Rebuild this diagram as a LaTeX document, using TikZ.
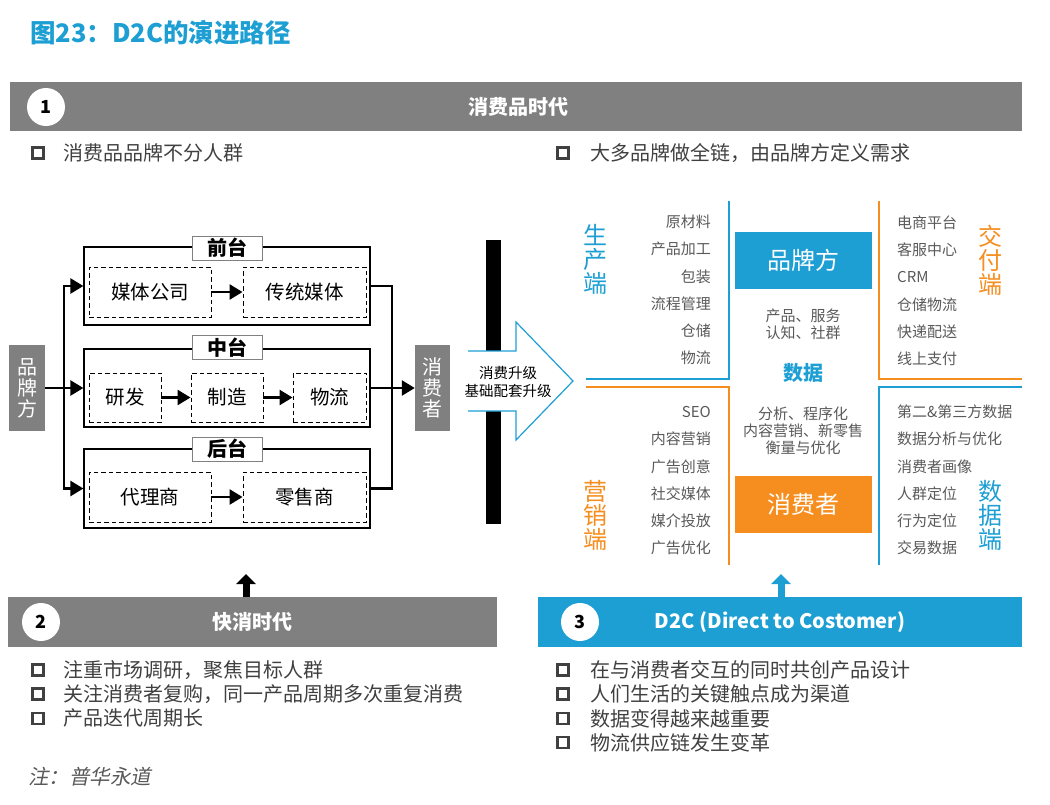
\documentclass[tikz,border=0pt]{standalone}
\usepackage{fontspec}
\setmainfont{Noto Sans CJK SC}
\newfontfamily\notefont[FakeSlant=0.2]{Noto Sans CJK SC}
\usetikzlibrary{arrows.meta}
\definecolor{dblue}{RGB}{30,159,212}
\definecolor{dorange}{RGB}{246,142,31}
\definecolor{bargray}{RGB}{128,128,128}
\definecolor{txtgray}{RGB}{89,89,89}
\definecolor{bulgray}{RGB}{64,64,64}
\begin{document}
\begin{tikzpicture}[x=1pt,y=-1pt,
 barbox/.style={fill=bargray,draw=none,inner sep=0,anchor=north west},
 bartext/.style={text=white,inner sep=0,font=\bfseries\fontsize{20}{24}\selectfont},
 numcirc/.style={circle,fill=white,minimum size=38pt,inner sep=0,font=\bfseries\fontsize{18}{20}\selectfont},
 bsq/.style={draw=bulgray,line width=2.5pt,minimum size=11pt,inner sep=0},
 btxt/.style={anchor=west,text=bulgray,font=\fontsize{20}{22}\selectfont,inner sep=0},
 outer/.style={draw,line width=1.2pt,minimum width=286pt,minimum height=78pt,inner sep=0},
 lab/.style={draw=gray,line width=1pt,fill=white,minimum width=70pt,minimum height=24pt,inner sep=0,font=\bfseries\fontsize{20}{22}\selectfont},
 dbox/.style={draw,dash pattern=on 4.5pt off 3pt,line width=0.9pt,minimum height=50pt,inner sep=0,font=\fontsize{19.5}{22}\selectfont},
 conn/.style={line width=2.5pt},
 arr/.style={line width=2.5pt,-{Triangle[length=13pt,width=15pt]}},
 side/.style={fill=bargray,text=white,minimum width=36pt,minimum height=86pt,inner sep=0,align=center,font=\fontsize{20}{21}\selectfont},
 qline/.style={line width=2.5pt},
 qlist/.style={text=txtgray,font=\fontsize{15}{17}\selectfont,inner sep=0},
 qlab/.style={align=center,font=\fontsize{24}{24}\selectfont,inner sep=0},
 ctext/.style={text=txtgray,align=center,font=\fontsize{15}{17}\selectfont,inner sep=0},
 qbox/.style={minimum width=137pt,minimum height=57pt,inner sep=0,text=white,font=\fontsize{24}{26}\selectfont},
 uparr/.style={line width=7pt,-{Triangle[length=10pt,width=19pt]}},
]
\useasboundingbox (0,0) rectangle (1050,804);

% title
\node[anchor=west,inner sep=0,text=dblue,font=\bfseries\fontsize{25.5}{28}\selectfont] (title) at (30,33) {图23：D2C的演进路径};

% top bar
\node[barbox,minimum width=1012pt,minimum height=49pt] (bar1) at (10,82) {};
\node[numcirc] (c1) at (46,107) {1};
\node[bartext] (bar1t) at (518,107) {消费品时代};

% top bullets
\node[bsq] (s1) at (38,153) {};
\node[btxt] (t1) at (63,153) {消费品品牌不分人群};
\node[bsq] (s2) at (563,153) {};
\node[btxt] (t2) at (590,153) {大多品牌做全链，由品牌方定义需求};

% left diagram
\node[side] (brand) at (27,388) {品\\牌\\方};
\node[side,minimum width=35pt] (cons) at (432.5,388) {消\\费\\者};

\node[outer] (front) at (227,286) {};
\node[outer] (mid) at (227,388) {};
\node[outer,minimum height=79pt] (back) at (227,488.5) {};
\node[lab] (frontl) at (227,248) {前台};
\node[lab] (midl) at (227,347.5) {中台};
\node[lab] (backl) at (227,449) {后台};

\node[dbox,minimum width=122pt] (media) at (150,292) {媒体公司};
\node[dbox,minimum width=123pt] (trad) at (304.5,292) {传统媒体};
\node[dbox,minimum width=72pt,minimum height=49pt] (rd) at (125,397.5) {研发};
\node[dbox,minimum width=72pt,minimum height=49pt] (mfg) at (227,397.5) {制造};
\node[dbox,minimum width=73pt,minimum height=49pt] (logi) at (329.5,397.5) {物流};
\node[dbox,minimum width=122pt] (agent) at (150,497) {代理商};
\node[dbox,minimum width=123pt] (retail) at (304.5,497) {零售商};

\draw[arr] (media) -- (trad);
\draw[arr] (rd) -- (mfg);
\draw[arr] (mfg) -- (logi);
\draw[arr] (agent) -- (retail);

\coordinate (jl) at (64,388);
\coordinate (jr) at (392,388);
\draw[conn] (brand.east) -- (jl);
\draw[arr] (jl) |- (front.west);
\draw[arr] (jl) -- (mid.west);
\draw[arr] (jl) |- (back.west);
\draw[conn] (front.east) -| (jr);
\draw[conn] (back.east) -| (jr);
\draw[arr] (mid.east) -- (cons.west);

% black bar and big arrow
\fill[black] (486,240) rectangle (501,524);
\fill[white] (468,351) -- (516,351) -- (516,322) -- (573,381) -- (516,440) -- (516,411) -- (468,411) -- cycle;
\draw[dblue,line width=1.2pt,line join=miter] (468,351) -- (516,351) -- (516,322) -- (573,381) -- (516,440) -- (516,411) -- (468,411);
\node[align=center,inner sep=0,font=\fontsize{14.5}{18}\selectfont] (upg) at (508,382) {消费升级\\基础配套升级};

% quadrant lines
\draw[qline,dblue] (729,201) -- (729,379) -- (586,379);
\draw[qline,dorange] (586,387) -- (729,387) -- (729,565);
\draw[qline,dorange] (879,201) -- (879,379) -- (1022,379);
\draw[qline,dblue] (1022,387) -- (879,387) -- (879,565);

\node[qbox,fill=dblue] (qbrand) at (803.5,260.5) {品牌方};
\node[qbox,fill=dorange] (qcons) at (803.5,504.5) {消费者};

\node[ctext] (c1t) at (803,324.5) {产品、服务\\认知、社群};
\node[inner sep=0,text=dblue,font=\bfseries\fontsize{20}{22}\selectfont] (data) at (803,373) {数据};
\node[ctext] (c2t) at (803,431) {分析、程序化\\内容营销、新零售\\衡量与优化};

\node[qlab,text=dblue] (lprod) at (595,259) {生\\产\\端};
\node[qlab,text=dorange] (ldeliv) at (990,260) {交\\付\\端};
\node[qlab,text=dorange] (lmkt) at (595,515) {营\\销\\端};
\node[qlab,text=dblue] (ldata) at (990,515) {数\\据\\端};

\foreach \t [count=\i] in {原材料,产品加工,包装,流程管理,仓储,物流}
  \node[qlist,anchor=east] (pa\i) at (711,{222+27.2*(\i-1)}) {\t};
\foreach \t [count=\i] in {电商平台,客服中心,CRM,仓储物流,快递配送,线上支付}
  \node[qlist,anchor=west] (pb\i) at (897,{223+27.2*(\i-1)}) {\t};
\foreach \t [count=\i] in {SEO,内容营销,广告创意,社交媒体,媒介投放,广告优化}
  \node[qlist,anchor=east] (pc\i) at (711,{412+27.2*(\i-1)}) {\t};
\foreach \t [count=\i] in {{第二\&第三方数据},数据分析与优化,消费者画像,人群定位,行为定位,交易数据}
  \node[qlist,anchor=west] (pd\i) at (897,{412+27.2*(\i-1)}) {\t};

% bottom bars
\node[barbox,minimum width=489pt,minimum height=50pt] (bar2) at (8,597) {};
\node[numcirc] (c2) at (41,622) {2};
\node[bartext] (bar2t) at (252,622) {快消时代};
\node[barbox,fill=dblue,minimum width=484pt,minimum height=50pt] (bar3) at (538,597) {};
\node[numcirc] (c3) at (580,622) {3};
\node[bartext] (bar3t) at (780,622) {D2C (Direct to Costomer)};

\coordinate (a2s) at (246,597);
\coordinate (a2e) at (246,574);
\coordinate (a3s) at (781,597);
\coordinate (a3e) at (781,574);
\draw[uparr,black] (a2s) -- (a2e);
\draw[uparr,dblue] (a3s) -- (a3e);

% bottom bullets
\foreach \t [count=\i] in {{注重市场调研，聚焦目标人群},{关注消费者复购，同一产品周期多次重复消费},产品迭代周期长}{
  \node[bsq] (ls\i) at (38,{670+24.2*(\i-1)}) {};
  \node[btxt] (lt\i) at (63,{670+24.2*(\i-1)}) {\t};
}
\foreach \t [count=\i] in {在与消费者交互的同时共创产品设计,人们生活的关键触点成为渠道,数据变得越来越重要,物流供应链发生变革}{
  \node[bsq] (rs\i) at (563,{670+24.2*(\i-1)}) {};
  \node[btxt] (rt\i) at (590,{670+24.2*(\i-1)}) {\t};
}

\node[anchor=west,inner sep=0,text=txtgray,font=\notefont\fontsize{20.5}{22}\selectfont] (note) at (28,777) {注：普华永道};
\end{tikzpicture}
\end{document}
